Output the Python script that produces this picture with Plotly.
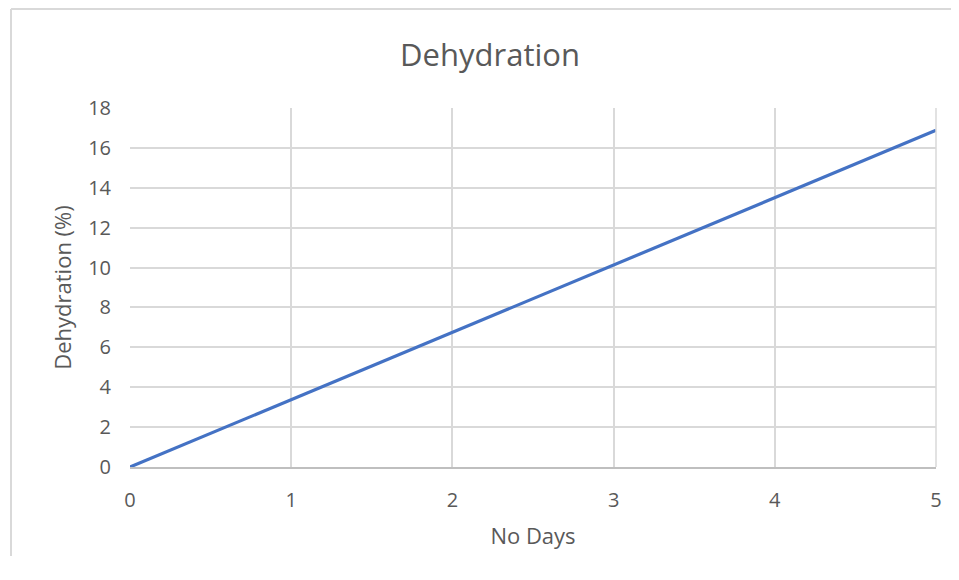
import plotly.graph_objects as go

days = [0, 1, 2, 3, 4, 5]
dehydration = [0, 3.38, 6.75, 10.13, 13.5, 16.88]
x_ticks = [0, 1, 2, 3, 4, 5]
y_ticks = [0, 2, 4, 6, 8, 10, 12, 14, 16, 18]

# page body has an 8px margin, so the figure is offset by 8px
W, H = 951, 548
L, R, T, B = 122, 23, 100, 89
pw, ph = W - L - R, H - T - B

FONT = "Open Sans, Noto Sans, sans-serif"
GRAY = "#595959"

fig = go.Figure()
fig.add_trace(go.Scatter(x=days, y=dehydration, mode="lines",
                         line=dict(color="#4472C4", width=3.2), showlegend=False))

bx0 = (3 - L) / pw
bx1 = (W + 20 - L) / pw
by1 = (T + ph - 1) / ph

fig.update_layout(
    width=W, height=H,
    margin=dict(l=L, r=R, t=T, b=B),
    paper_bgcolor="white", plot_bgcolor="white",
    title=dict(text="Dehydration", x=(482 - L) / pw, xref="paper", xanchor="center",
               y=1 - 47 / H, yanchor="middle", font=dict(family=FONT, size=31, color=GRAY)),
    xaxis=dict(range=[0, 5], tickvals=x_ticks, showgrid=True, gridcolor="#D9D9D9", gridwidth=1.5,
               zeroline=False, showline=True, linecolor="#BFBFBF", linewidth=1.5, mirror=False,
               ticks="", ticklabelstandoff=14, tickfont=dict(family=FONT, size=20, color=GRAY),
               title=dict(text="No Days", font=dict(family=FONT, size=22, color=GRAY), standoff=17)),
    yaxis=dict(range=[0, 18], tickvals=y_ticks, showgrid=True, gridcolor="#D9D9D9", gridwidth=1.5,
               zeroline=False, showline=False, ticks="", ticklabelstandoff=18,
               tickfont=dict(family=FONT, size=20, color=GRAY),
               title=dict(text="Dehydration (%)", font=dict(family=FONT, size=22, color=GRAY), standoff=10)),
    shapes=[
        dict(type="line", xref="paper", yref="paper", x0=1, x1=1, y0=0, y1=1,
             line=dict(color="#D9D9D9", width=1.5)),
        dict(type="line", xref="paper", yref="paper", x0=bx0, x1=bx0, y0=-(B + 5) / ph, y1=by1,
             line=dict(color="#D9D9D9", width=2)),
        dict(type="line", xref="paper", yref="paper", x0=bx0, x1=bx1, y0=by1, y1=by1,
             line=dict(color="#D9D9D9", width=2)),
    ],
)

fig.write_html("out.html", config={"displayModeBar": False})
